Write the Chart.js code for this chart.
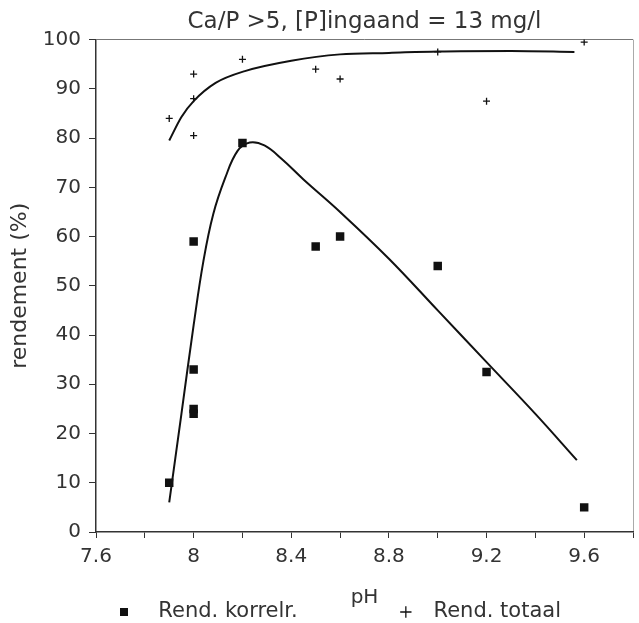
<!DOCTYPE html>
<html>
<head>
<meta charset="utf-8">
<script src="https://cdn.jsdelivr.net/npm/chart.js@4/dist/chart.umd.min.js"></script>
<style>
  html, body { margin: 0; padding: 0; background: #fff; }
  #wrap { width: 639px; height: 623px; }
</style>
</head>
<body>
<div id="wrap"><canvas id="chart"></canvas></div>
<script>
var korrelPH = [7.9, 8.0, 8.0, 8.0, 8.0, 8.2, 8.5, 8.6, 9.0, 9.2, 9.6];
var korrelRend = [10, 59, 33, 25, 24, 79, 58, 60, 54, 32.5, 5];
var totaalPH = [7.9, 8.0, 8.0, 8.0, 8.2, 8.5, 8.6, 9.0, 9.2, 9.6];
var totaalRend = [84, 93, 88, 80.5, 96, 94, 92, 97.5, 87.5, 99.5];

// Fitted curves as drawn in the figure
var fitKorrelPH = [7.9, 7.95, 8.0, 8.04, 8.08, 8.13, 8.18, 8.23, 8.29, 8.36, 8.45, 8.6, 8.8, 9.0, 9.2, 9.4, 9.57];
var fitKorrelRend = [6, 24, 42, 55, 64.5, 72, 77.4, 79.1, 78.5, 75.8, 71.6, 65, 55.5, 45, 34.5, 24, 14.6];
var fitTotaalPH = [7.9, 7.95, 8.0, 8.09, 8.21, 8.4, 8.6, 8.8, 9.0, 9.3, 9.56];
var fitTotaalRend = [79.5, 84.3, 87.5, 91.2, 93.6, 95.7, 97.0, 97.3, 97.6, 97.7, 97.5];

var seriesNames = ['Rend. korrelr.', 'Rend. totaal'];
var xTickLabels = ['7.6', '8', '8.4', '8.8', '9.2', '9.6'];
var chartTitle = 'Ca/P >5, [P]ingaand = 13 mg/l';
var xTitle = 'pH';
var yTitle = 'rendement (%)';

function toPoints(xs, ys) {
    var pts = [];
    for (var i = 0; i < xs.length; i++) {
        pts.push({ x: xs[i], y: ys[i] });
    }
    return pts;
}

Chart.defaults.font.family = '"DejaVu Sans", sans-serif';
Chart.defaults.color = '#333';

// legend text spacing so "pH" sits between the two entries
var legendText = ['  ' + seriesNames[0] + '            ', ' ' + seriesNames[1]];

var ctx = document.getElementById('chart').getContext('2d');
var myChart = new Chart(ctx, {
    type: 'scatter',
    data: {
        datasets: [{
            label: seriesNames[0],
            data: toPoints(korrelPH, korrelRend),
            pointStyle: 'rect',
            pointRadius: 6,
            backgroundColor: '#111',
            borderColor: '#111',
            borderWidth: 0
        }, {
            label: seriesNames[1],
            data: toPoints(totaalPH, totaalRend),
            pointStyle: 'cross',
            pointRadius: 3.5,
            backgroundColor: '#111',
            borderColor: '#111',
            borderWidth: 1.3
        }, {
            label: 'fit korrelr.',
            data: toPoints(fitKorrelPH, fitKorrelRend),
            showLine: true,
            pointRadius: 0,
            borderColor: '#111',
            borderWidth: 2,
            tension: 0.4
        }, {
            label: 'fit totaal',
            data: toPoints(fitTotaalPH, fitTotaalRend),
            showLine: true,
            pointRadius: 0,
            borderColor: '#111',
            borderWidth: 2,
            cubicInterpolationMode: 'monotone'
        }]
    },
    options: {
        responsive: true,
        maintainAspectRatio: false,
        animation: false,
        layout: { padding: { top: 0, left: 0, right: -1, bottom: -9.5 } },
        plugins: {
            tooltip: { enabled: false },
            title: {
                display: true,
                text: chartTitle,
                fullSize: false,
                color: '#333',
                font: { size: 23, weight: 'normal' },
                padding: { top: 8, bottom: 4 }
            },
            legend: {
                position: 'bottom',
                align: 'start',
                fullSize: false,
                labels: {
                    usePointStyle: true,
                    boxHeight: 8,
                    padding: 17.5,
                    color: '#333',
                    font: { size: 21 },
                    generateLabels: function (chart) {
                        var items = Chart.defaults.plugins.legend.labels.generateLabels(chart);
                        return items.filter(function (it) {
                            return it.datasetIndex < 2;
                        }).map(function (it) {
                            it.text = legendText[it.datasetIndex];
                            return it;
                        });
                    }
                }
            }
        },
        scales: {
            x: {
                type: 'linear',
                min: 7.6,
                max: 9.8,
                afterFit: function (scale) {
                    scale.height = 52;
                },
                ticks: {
                    stepSize: 0.2,
                    padding: 0,
                    maxRotation: 0,
                    autoSkip: false,
                    font: { size: 20, lineHeight: 1.9 },
                    callback: function (value) {
                        for (var i = 0; i < xTickLabels.length; i++) {
                            if (Math.abs(parseFloat(xTickLabels[i]) - value) < 1e-6) return xTickLabels[i];
                        }
                        return '';
                    }
                },
                grid: {
                    drawOnChartArea: true,
                    tickLength: 6,
                    tickColor: '#333',
                    color: function (c) {
                        return c.tick && Math.abs(c.tick.value - 9.8) < 1e-6 ? '#aaa' : 'rgba(0,0,0,0)';
                    }
                },
                border: { display: true, color: '#333', width: 1.5 },
                title: {
                    display: true,
                    text: xTitle,
                    font: { size: 20 },
                    padding: { top: 0, bottom: -26 }
                }
            },
            y: {
                min: 0,
                max: 100,
                afterFit: function (scale) { scale.width = 96; },
                ticks: {
                    stepSize: 10,
                    padding: 8,
                    font: { size: 20 }
                },
                grid: {
                    drawOnChartArea: true,
                    tickLength: 7,
                    tickColor: '#333',
                    color: function (c) {
                        return c.tick && c.tick.value === 100 ? '#777' : 'rgba(0,0,0,0)';
                    }
                },
                border: { display: true, color: '#333', width: 1.5 },
                title: {
                    display: true,
                    text: yTitle,
                    font: { size: 22 },
                    padding: { top: 7, bottom: 0 }
                }
            }
        }
    }
});
</script>
</body>
</html>
